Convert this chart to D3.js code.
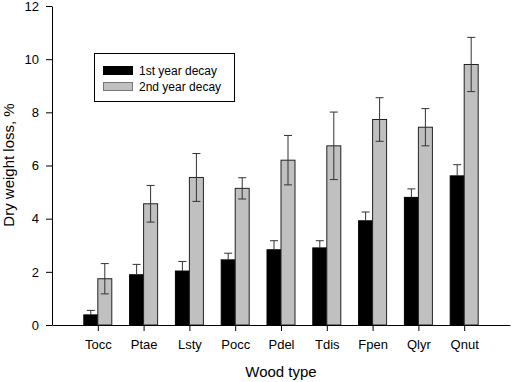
<!DOCTYPE html>
<html>
<head>
<meta charset="utf-8">
<script src="https://cdn.jsdelivr.net/npm/d3@7"></script>
<style>
  body { margin: 0; background: #fff; }
  svg { display: block; font-family: "Liberation Sans", Arial, sans-serif; }
</style>
</head>
<body>
<svg width="512" height="382"></svg>
<script>
// wood types and decay values (% dry weight loss)
const woodTypes = ["Tocc", "Ptae", "Lsty", "Pocc", "Pdel", "Tdis", "Fpen", "Qlyr", "Qnut"];
const year1 = [0.38, 1.89, 2.03, 2.45, 2.83, 2.9, 3.92, 4.8, 5.61];
const year1Err = [0.17, 0.39, 0.36, 0.25, 0.34, 0.27, 0.33, 0.32, 0.42];
const year2 = [1.74, 4.56, 5.55, 5.14, 6.2, 6.74, 7.73, 7.44, 9.8];
const year2Err = [0.57, 0.69, 0.9, 0.4, 0.93, 1.27, 0.82, 0.7, 1.02];
const yTicks = [0, 2, 4, 6, 8, 10, 12];

const svg = d3.select("svg");

const x = d3.scalePoint()
    .domain(woodTypes)
    .range([52, 510])
    .padding(1);

const y = d3.scaleLinear()
    .domain([0, 12])
    .range([325, 6]);

const barW = 14;

// bars
const g = svg.append("g");
woodTypes.forEach((w, i) => {
    const cx = x(w);
    // 1st year
    g.append("rect")
        .attr("x", cx - barW).attr("y", y(year1[i]))
        .attr("width", barW).attr("height", y(0) - y(year1[i]))
        .attr("fill", "#000").attr("stroke", "#000");
    // 2nd year
    g.append("rect")
        .attr("x", cx).attr("y", y(year2[i]))
        .attr("width", barW).attr("height", y(0) - y(year2[i]))
        .attr("fill", "#c0c0c0").attr("stroke", "#222");
});

// error bars
function errBar(cx, v, e, both) {
    const lo = both ? v - e : v;
    g.append("line")
        .attr("x1", cx).attr("x2", cx)
        .attr("y1", y(lo)).attr("y2", y(v + e))
        .attr("stroke", "#333");
    g.append("line")
        .attr("x1", cx - 4).attr("x2", cx + 4)
        .attr("y1", y(v + e)).attr("y2", y(v + e))
        .attr("stroke", "#333");
    if (both) {
        g.append("line")
            .attr("x1", cx - 4).attr("x2", cx + 4)
            .attr("y1", y(lo)).attr("y2", y(lo))
            .attr("stroke", "#333");
    }
}
woodTypes.forEach((w, i) => {
    errBar(x(w) - barW / 2, year1[i], year1Err[i], false);
    errBar(x(w) + barW / 2, year2[i], year2Err[i], true);
});

// axes
const xAxis = svg.append("g")
    .attr("transform", `translate(0,${y(0)})`)
    .call(d3.axisBottom(x).tickSize(6).tickPadding(9).tickSizeOuter(0));
const yAxis = svg.append("g")
    .attr("transform", "translate(52,0)")
    .call(d3.axisLeft(y).tickValues(yTicks).tickSize(6).tickPadding(7).tickSizeOuter(0));

[xAxis, yAxis].forEach(a => {
    a.select(".domain").attr("stroke", "#000");
    a.selectAll(".tick line").attr("stroke", "#000");
    a.selectAll(".tick text").attr("font-size", 13).attr("fill", "#000")
        .attr("font-family", "'Liberation Sans', Arial, sans-serif");
});

// axis titles
svg.append("text")
    .attr("x", 281).attr("y", 377)
    .attr("text-anchor", "middle")
    .attr("font-size", 15)
    .text("Wood type");

svg.append("text")
    .attr("transform", "translate(14,165) rotate(-90)")
    .attr("text-anchor", "middle")
    .attr("font-size", 15)
    .text("Dry weight loss, %");

// legend
const lg = svg.append("g");
lg.append("rect")
    .attr("x", 94.5).attr("y", 53.5).attr("width", 140).attr("height", 48)
    .attr("fill", "#fff").attr("stroke", "#000");
const legendItems = [
    { label: "1st year decay", fill: "#000" },
    { label: "2nd year decay", fill: "#c0c0c0" }
];
legendItems.forEach((d, i) => {
    lg.append("rect")
        .attr("x", 103.5).attr("y", 66.5 + i * 16).attr("width", 29).attr("height", 8)
        .attr("fill", d.fill).attr("stroke", i === 0 ? "#000" : "#777");
    lg.append("text")
        .attr("x", 139).attr("y", 75 + i * 16)
        .attr("font-size", 12)
        .text(d.label);
});
</script>
</body>
</html>
